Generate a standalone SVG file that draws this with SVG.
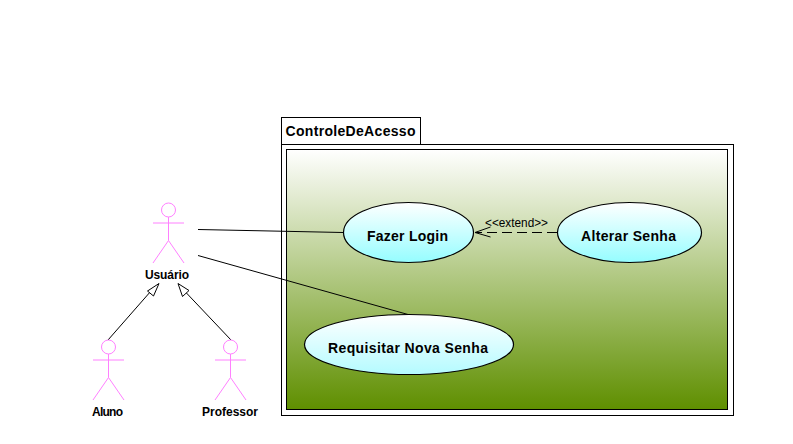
<svg xmlns="http://www.w3.org/2000/svg" width="793" height="444" viewBox="0 0 793 444">
<style>
.act{fill:none;stroke:#ff80ff;stroke-width:1}
.ln{fill:none;stroke:#000;stroke-width:1}
.uc{stroke:#000;stroke-width:1.2}
.lb{font-family:"Liberation Sans",Arial,sans-serif;font-weight:bold;fill:#000}
</style>
<defs>
<linearGradient id="bg" x1="0" y1="0" x2="0" y2="1"><stop offset="0" stop-color="#ffffff"/><stop offset="1" stop-color="#5f8f00"/></linearGradient>
<linearGradient id="ucg" x1="0" y1="0" x2="0" y2="1"><stop offset="0" stop-color="#ffffff"/><stop offset="1" stop-color="#95fdff"/></linearGradient>
<linearGradient id="ucg2" x1="0" y1="0" x2="0" y2="1"><stop offset="0" stop-color="#ffffff"/><stop offset="1" stop-color="#b4fbff"/></linearGradient>
<g id="actor"><circle cx="0" cy="7.5" r="7"/><path d="M0 14.500V38M-15.500 20.500H15.500M0 38L-15.500 60.500M0 38L15.500 60.500"/></g>
</defs>
<rect width="793" height="444" fill="#fff"/>
<g id="pkg">
<rect x="281.500" y="117.500" width="139" height="27" fill="#fff" stroke="#000"/>
<rect x="281.500" y="144.500" width="452" height="271" fill="#fff" stroke="#000"/>
<rect x="286.500" y="149.500" width="441" height="260" fill="url(#bg)" stroke="#000"/>
<text x="285.500" y="136" class="lb" font-size="14" textLength="130" lengthAdjust="spacing">ControleDeAcesso</text>
</g>
<g id="connectors">
<path class="ln" d="M198 229.500L343 232.500"/>
<path class="ln" d="M198 255.500L408 314.500"/>
<path class="ln" d="M108 340L151 291"/>
<path fill="#fff" stroke="#000" d="M159 283.500L147.500 291L153.500 296Z"/>
<path class="ln" d="M231 340L185.500 292"/>
<path fill="#fff" stroke="#000" d="M178 283.500L182.500 296.500L189 290.500Z"/>
<path class="ln" stroke-dasharray="10 5" d="M557 232.500H476"/>
<path class="ln" stroke-width="1.200" d="M490.500 227L475 232.500L490.500 237"/>
<text x="485" y="227" font-family="Liberation Sans,Arial,sans-serif" font-size="12" textLength="63" lengthAdjust="spacingAndGlyphs">&lt;&lt;extend&gt;&gt;</text>
</g>
<g id="usuario"><use href="#actor" x="168.500" y="202.500" class="act"/><text x="145" y="279" class="lb" font-size="12" textLength="44" lengthAdjust="spacing">Usuário</text></g>
<g id="aluno"><use href="#actor" x="108.500" y="339.500" class="act"/><text x="92" y="416" class="lb" font-size="12" textLength="31" lengthAdjust="spacing">Aluno</text></g>
<g id="professor"><use href="#actor" x="230.500" y="339.500" class="act"/><text x="202" y="416" class="lb" font-size="12" textLength="56" lengthAdjust="spacing">Professor</text></g>
<g id="login"><ellipse class="uc" fill="url(#ucg)" cx="408.500" cy="232.500" rx="65" ry="30"/><text x="367" y="241" class="lb" font-size="14" textLength="81" lengthAdjust="spacing">Fazer Login</text></g>
<g id="alterar"><ellipse class="uc" fill="url(#ucg)" cx="629.500" cy="232.500" rx="72" ry="30"/><text x="581" y="241" class="lb" font-size="14" textLength="95" lengthAdjust="spacing">Alterar Senha</text></g>
<g id="requisitar"><ellipse class="uc" fill="url(#ucg2)" cx="409" cy="344.500" rx="104.500" ry="30"/><text x="328" y="353" class="lb" font-size="14" textLength="160" lengthAdjust="spacing">Requisitar Nova Senha</text></g>
</svg>
